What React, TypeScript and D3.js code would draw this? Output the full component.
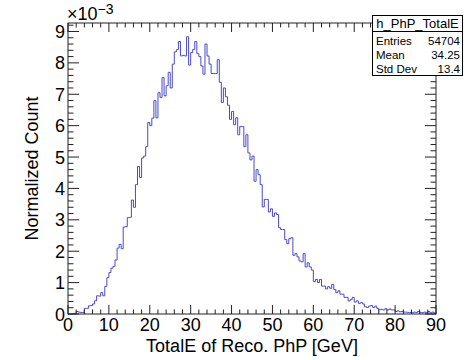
import React from "react";
import * as d3 from "d3";

// Histogram h_PhP_TotalE: 180 bins of 0.5 GeV from 0 to 90, values in units of 1e-3
const binLow = 0;
const binWidth = 0.5;
const binValues = [
  0, 0, 0, 0.02, 0.08, 0.06, 0.05, 0.05, 0.18, 0.18,
  0.26, 0.27, 0.32, 0.42, 0.58, 0.57, 0.68, 0.58, 0.88, 1.16,
  1.32, 1.46, 1.52, 1.72, 2.1, 2.22, 2.08, 2.77, 2.78, 3.07,
  3.08, 3.63, 3.4, 4.12, 4.7, 4.35, 4.97, 5.03, 5.33, 6.1,
  6.0, 6.24, 6.8, 6.25, 7.05, 6.9, 7.53, 6.95, 7.27, 7.7,
  7.2, 7.96, 8.35, 8.42, 8.68, 8.22, 8.24, 8.22, 8.83, 7.93,
  8.33, 8.43, 8.68, 8.3, 8.2, 7.9, 7.64, 8.6, 8.22, 7.96,
  7.66, 7.66, 7.66, 8.1, 7.38, 6.74, 7.2, 6.92, 6.65, 6.2,
  6.45, 6.03, 6.25, 5.71, 5.97, 5.97, 5.33, 5.71, 5.13, 4.91,
  5.03, 4.23, 4.6, 4.44, 4.12, 3.41, 3.65, 3.65, 3.25, 3.35,
  3.11, 3.22, 3.17, 2.75, 2.69, 2.69, 2.37, 2.24, 2.4, 2.43,
  1.87, 1.92, 1.82, 1.69, 1.66, 1.92, 1.5, 1.63, 1.5, 1.4,
  1.03, 1.1, 1.0, 1.1, 0.89, 0.89, 0.8, 0.87, 0.82, 0.94,
  0.78, 0.68, 0.74, 0.63, 0.63, 0.53, 0.53, 0.42, 0.46, 0.53,
  0.38, 0.42, 0.34, 0.36, 0.32, 0.23, 0.21, 0.25, 0.27, 0.21,
  0.25, 0.18, 0.13, 0.15, 0.13, 0.17, 0.13, 0.16, 0.13, 0.13,
  0.08, 0.1, 0.07, 0.08, 0.06, 0.06, 0.05, 0.05, 0.04, 0.06,
  0.05, 0.08, 0.05, 0.04, 0.06, 0.04, 0.08, 0.04, 0.06, 0.03,
];

const xDomain = [0, 90];
const yDomain = [0, 9.27];
const xMajorTicks = [0, 10, 20, 30, 40, 50, 60, 70, 80, 90];
const yMajorTicks = [0, 1, 2, 3, 4, 5, 6, 7, 8, 9];
const xTitle = "TotalE of Reco. PhP [GeV]";
const yTitle = "Normalized Count";
const statsTitle = "h_PhP_TotalE";
const statsLabels = ["Entries", "Mean", "Std Dev"];
const statsValues = ["54704", "34.25", "13.4"];

const W = 466;
const H = 360;
const L = 68, R = 436, T = 23, B = 314;
const FONT = "'Liberation Sans', Arial, Helvetica, sans-serif";

export default function App() {
  const x = d3.scaleLinear().domain(xDomain).range([L, R]);
  const y = d3.scaleLinear().domain(yDomain).range([B, T]);

  const pts: [number, number][] = binValues.map((v, i) => [binLow + i * binWidth, v]);
  pts.push([binLow + binValues.length * binWidth, binValues[binValues.length - 1]]);
  const line = d3
    .line<[number, number]>()
    .x((d) => x(d[0]))
    .y((d) => y(d[1]))
    .curve(d3.curveStepAfter);

  const xMinor = d3.range(0, 90.001, 2);
  const yMinor = d3.range(0, 9.27, 0.2);
  const axisColor = "#222";

  return (
    <svg
      width={W}
      height={H}
      style={{ position: "absolute", left: 0, top: 0, background: "#fff" }}
      fontFamily={FONT}
    >
      <rect x={0} y={0} width={W} height={H} fill="#fff" />
      {/* histogram */}
      <path d={line(pts) || ""} fill="none" stroke="#4a4acc" strokeWidth={1} />

      {/* frame */}
      <rect x={L} y={T} width={R - L} height={B - T} fill="none" stroke={axisColor} strokeWidth={1} />

      {/* x ticks bottom & top */}
      {xMinor.map((v) => {
        const major = Math.abs(v % 10) < 1e-6;
        const len = major ? 9 : 4.5;
        return (
          <g key={"xt" + v} stroke={axisColor} strokeWidth={1}>
            <line x1={x(v)} x2={x(v)} y1={B} y2={B - len} />
            <line x1={x(v)} x2={x(v)} y1={T} y2={T + len} />
          </g>
        );
      })}
      {/* y ticks left & right */}
      {yMinor.map((v) => {
        const major = Math.abs(v - Math.round(v)) < 1e-6;
        const len = major ? 11 : 5.5;
        return (
          <g key={"yt" + v.toFixed(1)} stroke={axisColor} strokeWidth={1}>
            <line x1={L} x2={L + len} y1={y(v)} y2={y(v)} />
            <line x1={R} x2={R - len} y1={y(v)} y2={y(v)} />
          </g>
        );
      })}

      {/* x labels */}
      {xMajorTicks.map((v) => (
        <text key={"xl" + v} x={x(v)} y={331} fontSize={18} textAnchor="middle" fill="#000">
          {v}
        </text>
      ))}
      {/* y labels */}
      {yMajorTicks.map((v) => (
        <text key={"yl" + v} x={65} y={y(v) + 6.5} fontSize={18} textAnchor="end" fill="#000">
          {v}
        </text>
      ))}
      {/* exponent */}
      <text x={67} y={20} fontSize={18} fill="#000">
        ×10
        <tspan dy={-6.5} fontSize={14}>
          −3
        </tspan>
      </text>

      {/* axis titles */}
      <text x={(L + R) / 2} y={352} fontSize={18} textAnchor="middle" fill="#000">
        {xTitle}
      </text>
      <text
        transform={`translate(38, ${(T + B) / 2}) rotate(-90)`}
        fontSize={18}
        textAnchor="middle"
        fill="#000"
      >
        {yTitle}
      </text>

      {/* stats box */}
      <g>
        <rect x={372.5} y={15.5} width={90} height={60} fill="#fff" stroke="#000" strokeWidth={1} />
        <line x1={372.5} x2={462.5} y1={31.5} y2={31.5} stroke="#000" strokeWidth={1} />
        <text x={417.5} y={27.5} fontSize={13} textAnchor="middle" fill="#000">
          {statsTitle}
        </text>
        {statsLabels.map((lab, i) => (
          <g key={lab}>
            <text x={376} y={45 + i * 14} fontSize={11.5} fill="#000">
              {lab}
            </text>
            <text x={460} y={45 + i * 14} fontSize={11.5} textAnchor="end" fill="#000">
              {statsValues[i]}
            </text>
          </g>
        ))}
      </g>
    </svg>
  );
}
